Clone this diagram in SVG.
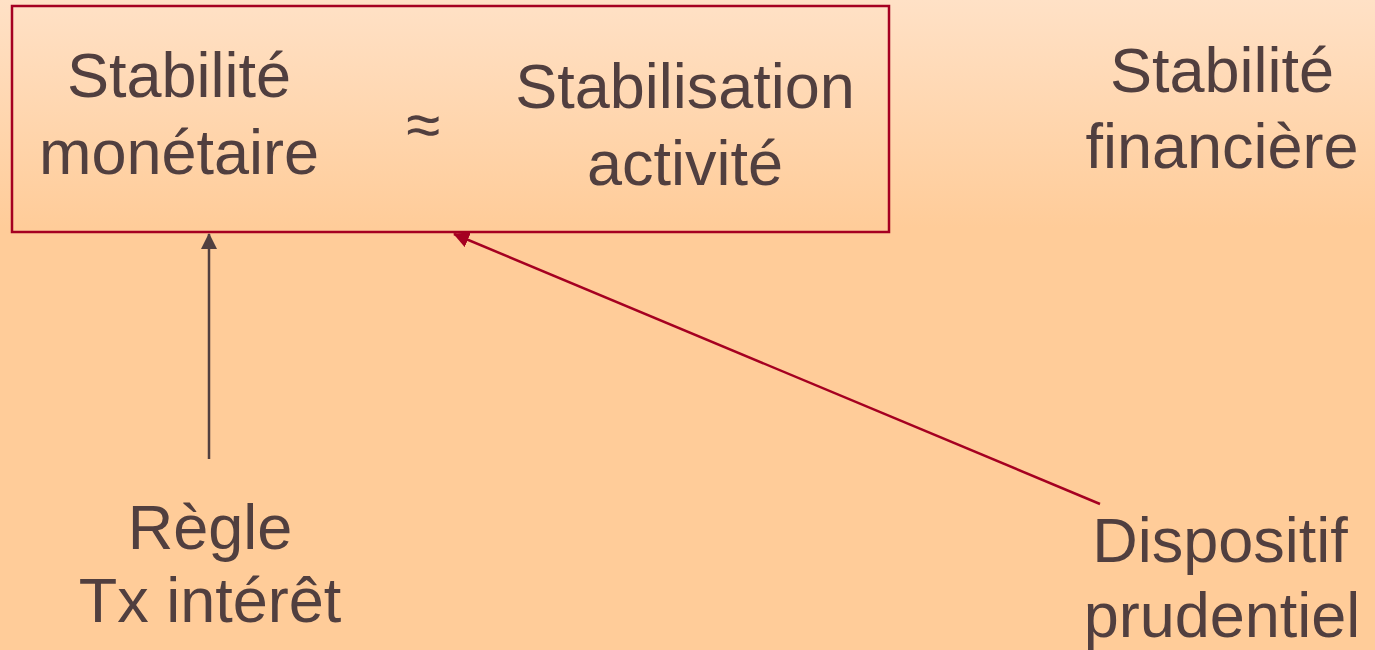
<svg xmlns="http://www.w3.org/2000/svg" width="1375" height="650" viewBox="0 0 1375 650">
<defs>
<linearGradient id="bg" x1="0" y1="0" x2="0" y2="1" gradientUnits="objectBoundingBox">
<stop offset="0" stop-color="#FFE1C6"/>
<stop offset="0.35" stop-color="#FFCC99"/>
<stop offset="1" stop-color="#FFCC99"/>
</linearGradient>
<marker id="ahDark" markerWidth="16" markerHeight="16" refX="15" refY="8" orient="auto" markerUnits="userSpaceOnUse">
<path d="M0,0 L16,8 L0,16 Z" fill="#513F3F"/>
</marker>
<marker id="ahRed" markerWidth="16" markerHeight="16" refX="15" refY="8" orient="auto" markerUnits="userSpaceOnUse">
<path d="M0,0 L16,8 L0,16 Z" fill="#A50021"/>
</marker>
</defs>
<style>
.t{font-family:"Liberation Sans",Arial,sans-serif;font-size:63px;fill:#513F3F;text-anchor:middle}
</style>
<rect x="0" y="0" width="1375" height="650" fill="url(#bg)"/>
<g id="box">
<rect x="12" y="6" width="877" height="226" fill="none" stroke="#A50021" stroke-width="2.5"/>
</g>
<g id="stabilite-monetaire">
<text class="t" x="179" y="97">Stabilité</text>
<text class="t" x="179" y="174">monétaire</text>
</g>
<g id="approx">
<text class="t" x="423" y="146" style="font-size:62px">≈</text>
</g>
<g id="stabilisation-activite">
<text class="t" x="685" y="108">Stabilisation</text>
<text class="t" x="685" y="185">activité</text>
</g>
<g id="stabilite-financiere">
<text class="t" x="1222" y="92">Stabilité</text>
<text class="t" x="1222" y="168">financière</text>
</g>
<g id="regle">
<text class="t" x="210" y="549">Règle</text>
<text class="t" x="210" y="622">Tx intérêt</text>
</g>
<g id="dispositif">
<text class="t" x="1220" y="562">Dispositif</text>
<text class="t" x="1222" y="637">prudentiel</text>
</g>
<g id="connectors">
<line x1="209" y1="459" x2="209" y2="234" stroke="#513F3F" stroke-width="2.5" marker-end="url(#ahDark)"/>
<line x1="1100" y1="504" x2="454" y2="234" stroke="#A50021" stroke-width="2.5" marker-end="url(#ahRed)"/>
</g>
</svg>
